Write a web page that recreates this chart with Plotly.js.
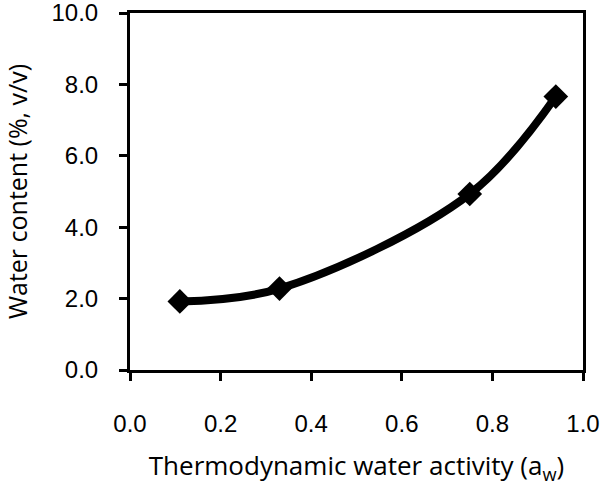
<!DOCTYPE html>
<html>
<head>
<meta charset="utf-8">
<script src="https://cdn.plot.ly/plotly-3.0.1.min.js"></script>
<style>html,body{margin:0;padding:0;background:#fff;}#chart{width:601px;height:489px;}</style>
</head>
<body>
<div id="chart"></div>
<script>
const waterActivity = [0.11, 0.33, 0.75, 0.94];
const waterContent = [1.92, 2.28, 4.93, 7.66];
const xTickVals = [0, 0.2, 0.4, 0.6, 0.8, 1.0];
const xTickText = ["0.0", "0.2", "0.4", "0.6", "0.8", "1.0"];
const yTickVals = [0, 2, 4, 6, 8, 10];
const yTickText = ["0.0", "2.0", "4.0", "6.0", "8.0", "10.0"];

const trace = {
  x: waterActivity,
  y: waterContent,
  type: 'scatter',
  mode: 'lines+markers',
  line: {color: '#000', width: 8, shape: 'spline', smoothing: 1},
  marker: {symbol: 'diamond', size: 19, color: '#000'},
  hoverinfo: 'skip'
};

const layout = {
  width: 601, height: 489,
  margin: {l: 130, r: 18, t: 13, b: 119},
  paper_bgcolor: '#fff', plot_bgcolor: '#fff',
  showlegend: false,
  font: {family: 'Liberation Sans, Arial, sans-serif', color: '#000'},
  xaxis: {
    range: [0, 1], tickvals: xTickVals, ticktext: xTickText,
    ticks: 'outside', ticklen: 8, tickwidth: 3, tickcolor: '#000',
    showline: true, linewidth: 3, linecolor: '#000', mirror: true,
    showgrid: false, zeroline: false,
    tickfont: {size: 24, family: 'Liberation Sans, Arial, sans-serif'},
    ticklabelstandoff: 22, ticklabeloverflow: 'allow',
    title: {text: 'Thermodynamic water activity (a<sub>w</sub>)', font: {size: 26, family: 'Open Sans, sans-serif'}, standoff: 22}
  },
  yaxis: {
    range: [0, 10], tickvals: yTickVals, ticktext: yTickText,
    ticks: 'outside', ticklen: 8, tickwidth: 3, tickcolor: '#000',
    showline: true, linewidth: 3, linecolor: '#000', mirror: true,
    showgrid: false, zeroline: false,
    tickfont: {size: 24, family: 'Liberation Sans, Arial, sans-serif'},
    ticklabelstandoff: 16, ticklabeloverflow: 'allow',
    title: {text: 'Water content (%, v/v)', font: {size: 25, family: 'Open Sans, sans-serif'}, standoff: 36}
  }
};

Plotly.newPlot('chart', [trace], layout, {staticPlot: true, displayModeBar: false});
</script>
</body>
</html>
